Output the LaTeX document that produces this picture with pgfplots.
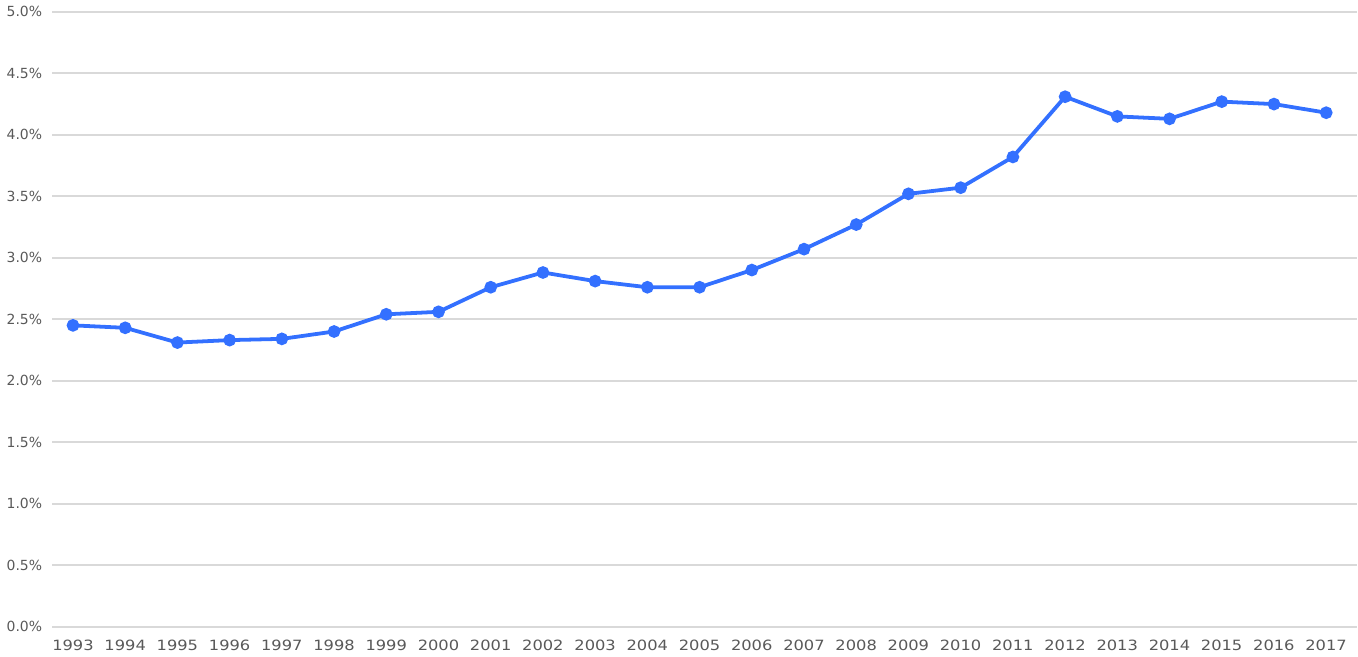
\documentclass[border=0pt]{standalone}
\usepackage{pgfplots}
\pgfplotsset{compat=1.18}
\usepackage{fontspec}
\setmainfont{DejaVu Sans}
\newfontfamily\xfont[FakeStretch=1.15]{DejaVu Sans}
\definecolor{lineblue}{HTML}{3370FF}
\definecolor{gridgray}{HTML}{D9D9D9}
\definecolor{labelgray}{HTML}{595959}

\begin{document}
\begin{tikzpicture}
\begin{axis}[
    scale only axis,
    width=655pt,
    height=308.5pt,
    xmin=1992.6, xmax=2017.59,
    ymin=0, ymax=5,
    xtick={1993,...,2017},
    ytick={0,0.5,...,5},
    axis line style={draw=none},
    major tick length=0pt,
    ymajorgrids,
    major grid style={gridgray, line width=1pt},
    /pgf/number format/assume math mode=true,
    xticklabel style={/pgf/number format/1000 sep={}},
    yticklabel={\pgfmathprintnumber[fixed,fixed zerofill,precision=1]{\tick}\%},
    yticklabel style={font=\fontsize{7}{8.5}\selectfont, text=labelgray, xshift=-1.5pt},
    xticklabel style={font=\xfont\fontsize{7.1}{8.5}\selectfont, text=labelgray, yshift=-3pt},
    clip=false
]
\addplot[
    lineblue,
    line width=1.9pt,
    mark=*,
    mark size=2.2pt,
    mark options={fill=lineblue, draw=lineblue}
] coordinates {
    (1993, 2.45)
    (1994, 2.43)
    (1995, 2.31)
    (1996, 2.33)
    (1997, 2.34)
    (1998, 2.40)
    (1999, 2.54)
    (2000, 2.56)
    (2001, 2.76)
    (2002, 2.88)
    (2003, 2.81)
    (2004, 2.76)
    (2005, 2.76)
    (2006, 2.90)
    (2007, 3.07)
    (2008, 3.27)
    (2009, 3.52)
    (2010, 3.57)
    (2011, 3.82)
    (2012, 4.31)
    (2013, 4.15)
    (2014, 4.13)
    (2015, 4.27)
    (2016, 4.25)
    (2017, 4.18)
};
\end{axis}
\end{tikzpicture}
\end{document}
